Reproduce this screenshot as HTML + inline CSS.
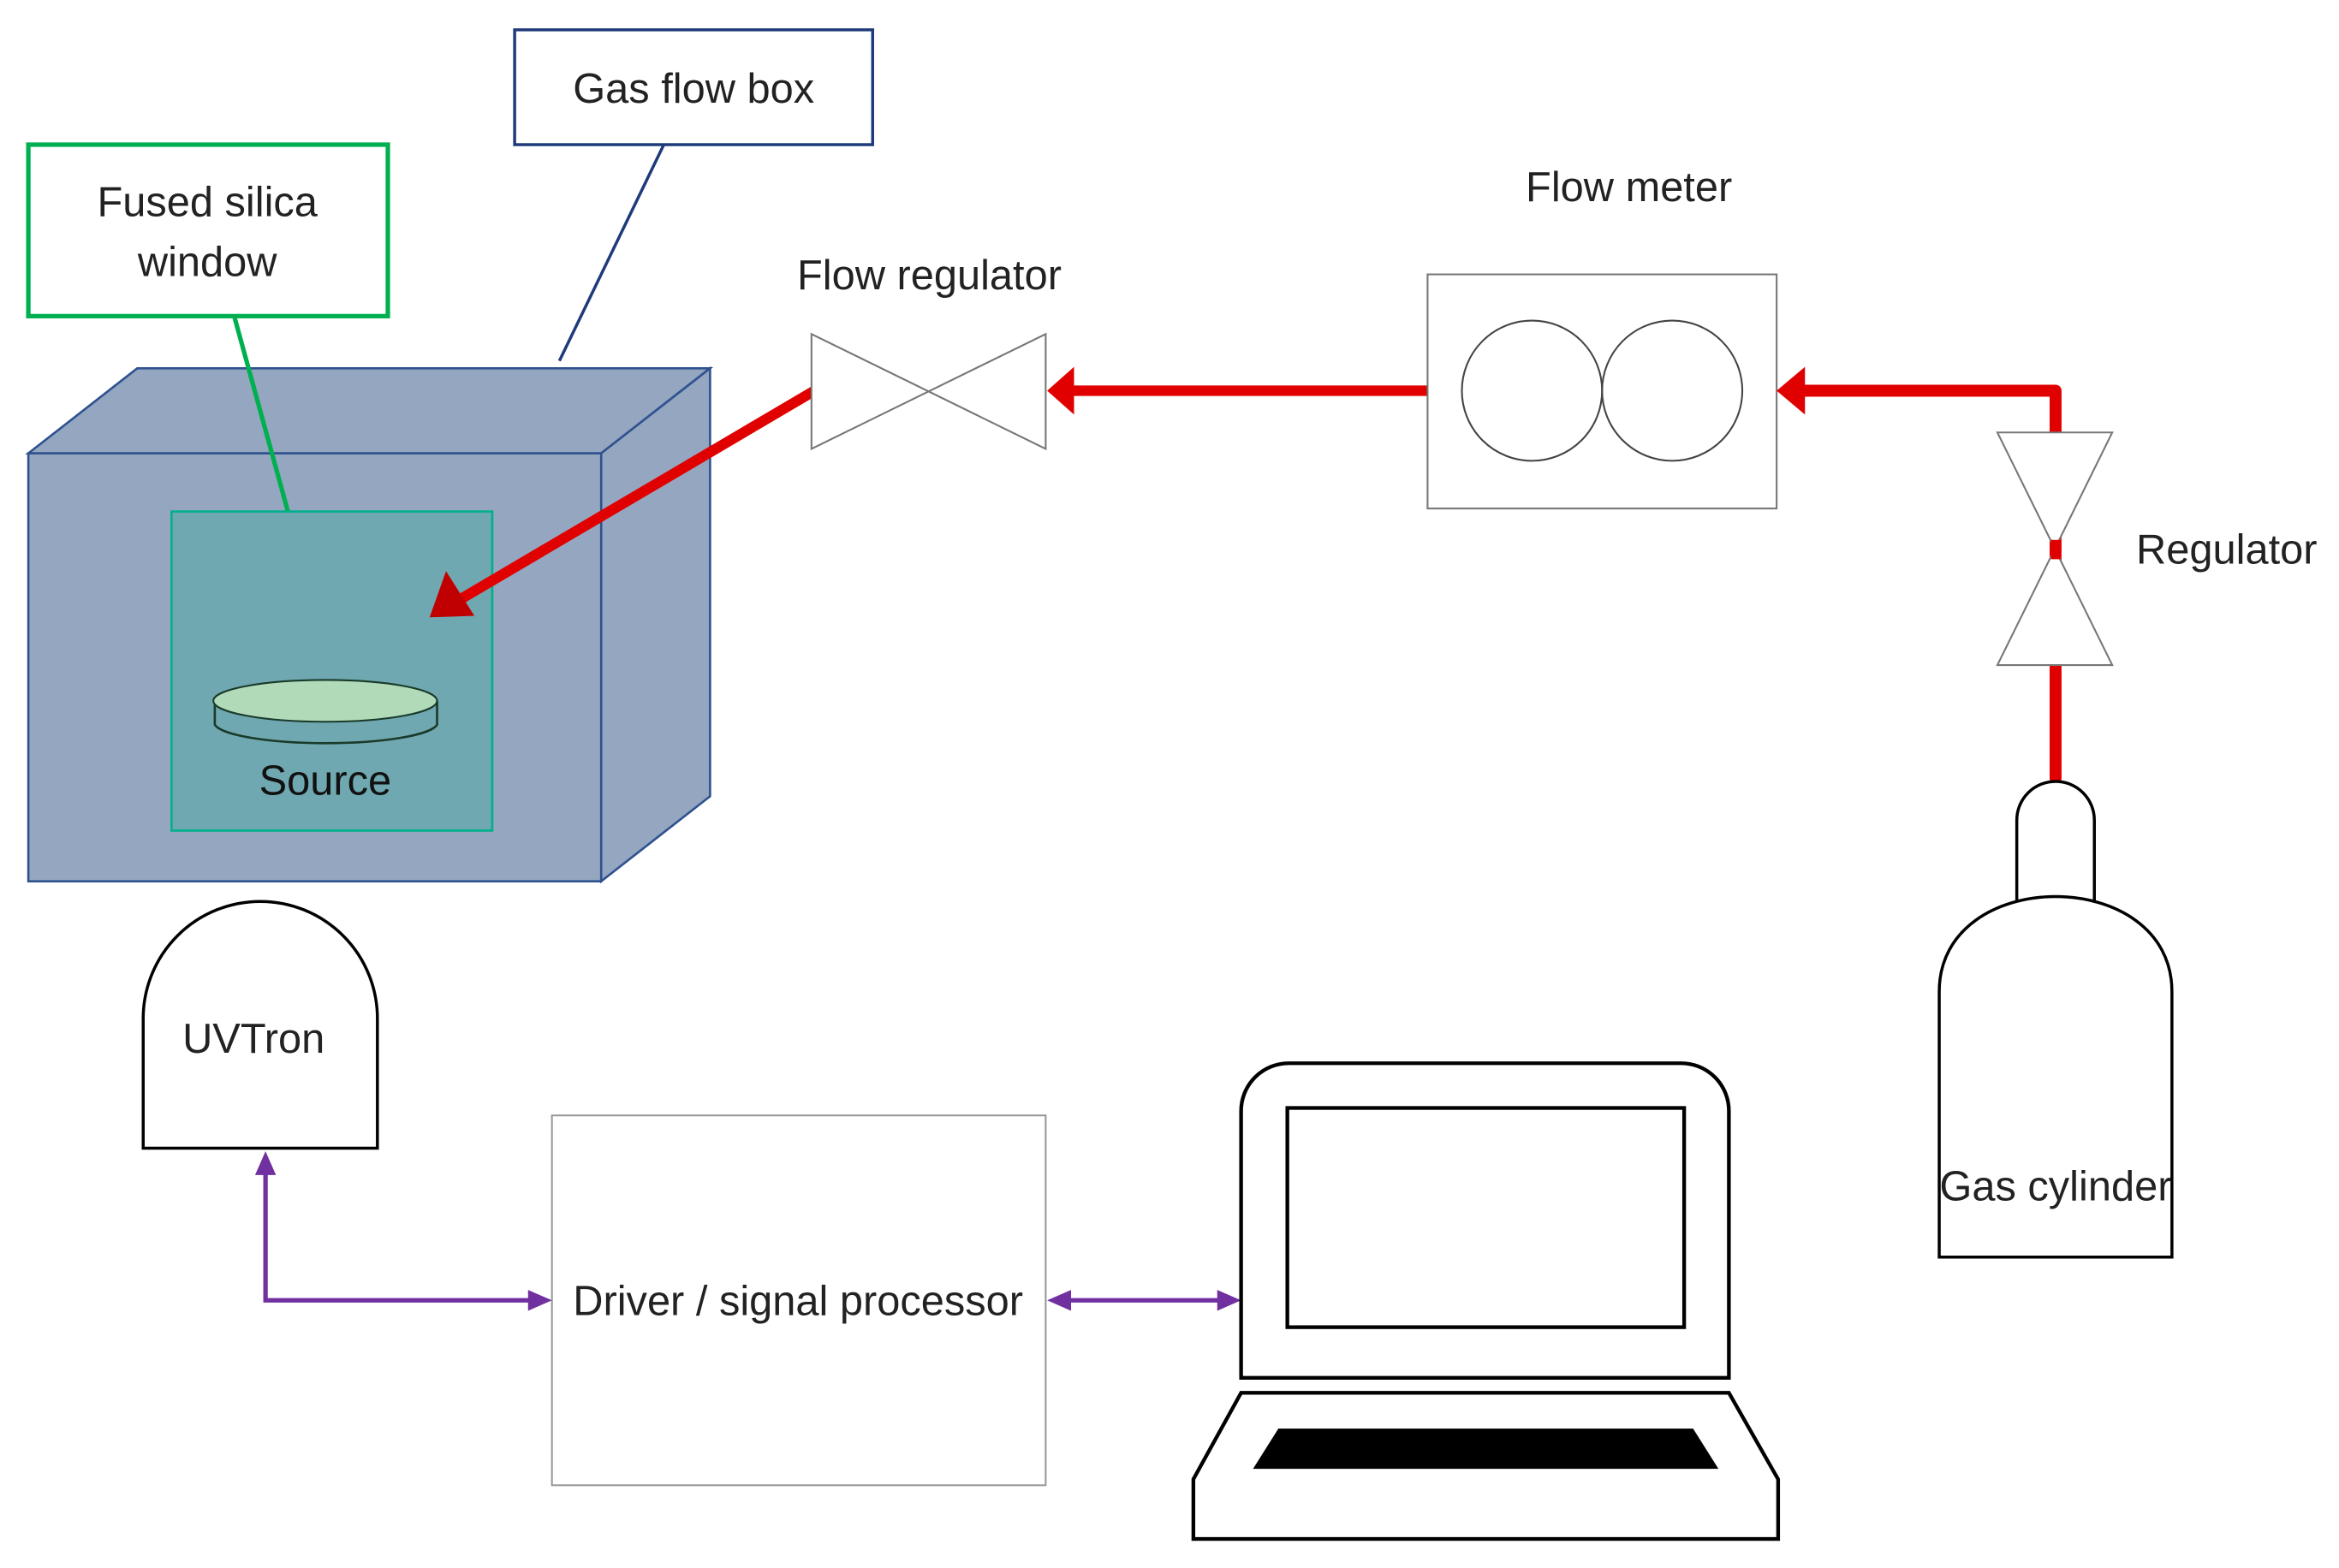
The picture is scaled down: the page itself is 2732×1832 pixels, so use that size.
<!DOCTYPE html>
<html><head><meta charset="utf-8"><style>html,body{margin:0;padding:0;background:#fff}svg{display:block}</style></head>
<body>
<svg width="2732" height="1832" viewBox="0 0 1568 1051.5" preserveAspectRatio="none" xmlns="http://www.w3.org/2000/svg" font-family="Liberation Sans, sans-serif" font-size="28" fill="#222">
<!-- Gas flow box label -->
<rect x="345" y="20" width="240" height="77" fill="#fff" stroke="#1f3a7a" stroke-width="2"/>
<text x="465" y="69" text-anchor="middle">Gas flow box</text>
<line x1="445" y1="97" x2="375" y2="242" stroke="#1f3a7a" stroke-width="2"/>
<!-- Fused silica label -->
<rect x="19" y="97" width="241" height="115" fill="#fff" stroke="#00b050" stroke-width="3"/>
<text x="139" y="145" text-anchor="middle">Fused silica</text>
<text x="139" y="185" text-anchor="middle">window</text>
<!-- Box -->
<polygon points="19,304 92,247 476,247 403,304" fill="#94a6c0" stroke="#2f528f" stroke-width="1.5"/>
<polygon points="403,304 476,247 476,534 403,591" fill="#94a6c0" stroke="#2f528f" stroke-width="1.5"/>
<rect x="19" y="304" width="384" height="287" fill="#94a6c0" stroke="#2f528f" stroke-width="1.5"/>
<line x1="157" y1="212" x2="193" y2="343" stroke="#00b050" stroke-width="3"/>
<rect x="115" y="343" width="215" height="214" fill="#6fa8b0" stroke="#00b08a" stroke-width="1.5"/>
<path d="M144,470 L144,486 A75,14 0 0 0 293,486 L293,470" fill="none" stroke="#1a3a2a" stroke-width="1.5"/>
<ellipse cx="218" cy="470" rx="75" ry="14" fill="#b0dab8" stroke="#1a3a2a" stroke-width="1.2"/>
<text x="218" y="533" text-anchor="middle" fill="#111">Source</text>
<!-- red arrow to source -->
<line x1="546" y1="262" x2="305" y2="404" stroke="#e00000" stroke-width="7" stroke-linecap="round"/>
<polygon points="288,414 299,383 318,413" fill="#c00000"/>
<!-- Flow regulator -->
<polygon points="544,224 701,301 701,224 544,301" fill="#fff" stroke="#777" stroke-width="1.2"/>
<text x="623" y="194" text-anchor="middle">Flow regulator</text>
<line x1="958" y1="262" x2="718" y2="262" stroke="#e00000" stroke-width="7" stroke-linecap="round"/>
<polygon points="702,262 720,246 720,278" fill="#e00000"/>
<!-- Flow meter -->
<rect x="957" y="184" width="234" height="157" fill="#fff" stroke="#777" stroke-width="1.2"/>
<circle cx="1027" cy="262" r="47" fill="none" stroke="#444" stroke-width="1.2"/>
<circle cx="1121" cy="262" r="47" fill="none" stroke="#444" stroke-width="1.2"/>
<text x="1092" y="135" text-anchor="middle">Flow meter</text>
<!-- red line from cylinder -->
<polyline points="1378,522 1378,262 1208,262" fill="none" stroke="#e00000" stroke-width="8" stroke-linejoin="round" stroke-linecap="round"/>
<polygon points="1191,262 1210,246 1210,278" fill="#e00000"/>
<!-- Regulator -->
<polygon points="1339,290 1416,290 1339,446 1416,446" fill="#fff" stroke="#777" stroke-width="1.2"/>
<line x1="1378" y1="362" x2="1378" y2="375" stroke="#e00000" stroke-width="6"/>
<text x="1432" y="378">Regulator</text>
<!-- Gas cylinder -->
<path d="M1352,608 L1352,550 A26,26 0 0 1 1404,550 L1404,608 Z" fill="#fff" stroke="#000" stroke-width="2"/>
<path d="M1300,843 L1300,665 C1300,580 1456,580 1456,665 L1456,843 Z" fill="#fff" stroke="#000" stroke-width="2"/>
<text x="1378" y="805" text-anchor="middle">Gas cylinder</text>
<!-- UVTron -->
<path d="M96,770 L96,683 A78,78 0 0 1 253,683 L253,770 Z" fill="#fff" stroke="#000" stroke-width="2"/>
<text x="170" y="706" text-anchor="middle">UVTron</text>
<!-- Driver -->
<rect x="370" y="748" width="331" height="248" fill="#fff" stroke="#999" stroke-width="1.2"/>
<text x="535" y="882" text-anchor="middle">Driver / signal processor</text>
<!-- purple -->
<polyline points="178,786 178,872 356,872" fill="none" stroke="#7030a0" stroke-width="3"/>
<polygon points="178,772 171,788 185,788" fill="#7030a0"/>
<polygon points="370,872 354,865 354,879" fill="#7030a0"/>
<line x1="716" y1="872" x2="818" y2="872" stroke="#7030a0" stroke-width="3"/>
<polygon points="702,872 718,865 718,879" fill="#7030a0"/>
<polygon points="832,872 816,865 816,879" fill="#7030a0"/>
<!-- Laptop -->
<path d="M832,924 L832,745 A32,32 0 0 1 864,713 L1127,713 A32,32 0 0 1 1159,745 L1159,924 Z" fill="#fff" stroke="#000" stroke-width="2.5"/>
<rect x="863" y="743" width="266" height="147" fill="#fff" stroke="#000" stroke-width="2.5"/>
<polygon points="832,934 1159,934 1192,992 1192,1032 800,1032 800,992" fill="#fff" stroke="#000" stroke-width="2.5"/>
<polygon points="857,958 1135,958 1152,985 840,985" fill="#000"/>
</svg>
</body></html>
